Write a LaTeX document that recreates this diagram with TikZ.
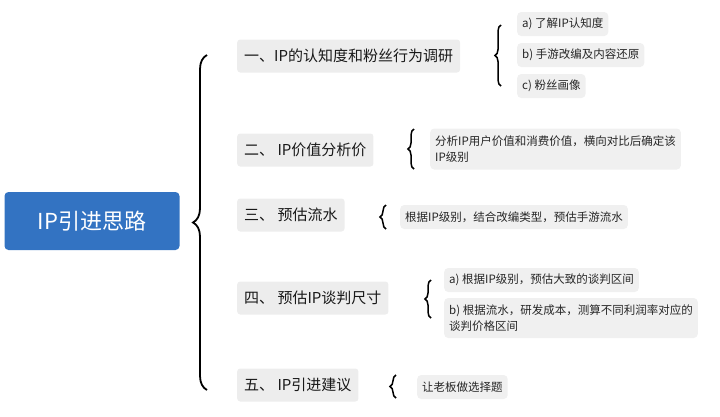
\documentclass[tikz,border=0pt]{standalone}
\usepackage{fontspec}
\setmainfont{Noto Sans CJK SC}
\usetikzlibrary{positioning, decorations.pathreplacing}

\begin{document}
\begin{tikzpicture}[x=1pt, y=-1pt]
    % Define styles
    \tikzstyle{root} = [rectangle, rounded corners=4pt, fill=blue!55!cyan!70!black!80, text=white, font=\fontsize{22}{24}\selectfont, minimum width=175pt, minimum height=58pt]
    \tikzstyle{topic} = [rectangle, rounded corners=3pt, fill=black!7, text=black!90, font=\fontsize{15}{17}\selectfont, minimum height=33pt, anchor=west, inner xsep=7pt]
    \tikzstyle{leaf} = [rectangle, rounded corners=4pt, fill=black!6, text=black!85, font=\fontsize{11.5}{16}\selectfont, minimum height=24pt, anchor=west, align=left, inner xsep=5pt]
    \tikzstyle{brace} = [line width=1.5pt, black, decorate, decoration={brace, amplitude=6pt}]

    \useasboundingbox (0,0) rectangle (720,416);

    % Nodes
    \node (root) [root] at (92,221) {IP引进思路};
    \node (t1) [topic] at (237,56) {一、IP的认知度和粉丝行为调研};
    \node (t2) [topic] at (237,150) {二、 IP价值分析价};
    \node (t3) [topic] at (237,215) {三、 预估流水};
    \node (t4) [topic] at (237,298) {四、 预估IP谈判尺寸};
    \node (t5) [topic] at (237,385) {五、 IP引进建议};

    \node (a1) [leaf] at (517,24) {a) 了解IP认知度};
    \node (b1) [leaf] at (517,55) {b) 手游改编及内容还原};
    \node (c1) [leaf] at (517,86) {c) 粉丝画像};
    \node (l2) [leaf, minimum height=41pt] at (430,149) {分析IP用户价值和消费价值，横向对比后确定该\\IP级别};
    \node (l3) [leaf] at (400,217) {根据IP级别，结合改编类型，预估手游流水};
    \node (a4) [leaf] at (444,280) {a) 根据IP级别，预估大致的谈判区间};
    \node (b4) [leaf, minimum height=40pt] at (444,318) {b) 根据流水，研发成本，测算不同利润率对应的\\谈判价格区间};
    \node (l5) [leaf] at (417,387) {让老板做选择题};

    % Braces
    \draw [brace, line width=1.8pt, decoration={amplitude=14pt}] (207,390) -- (207,55);
    \draw [brace] (501,86) -- (501,25);
    \draw [brace] (414,169) -- (414,129);
    \draw [brace] (386,229) -- (386,205);
    \draw [brace] (431,318) -- (431,280);
    \draw [brace] (396,398) -- (396,375);
\end{tikzpicture}
\end{document}
